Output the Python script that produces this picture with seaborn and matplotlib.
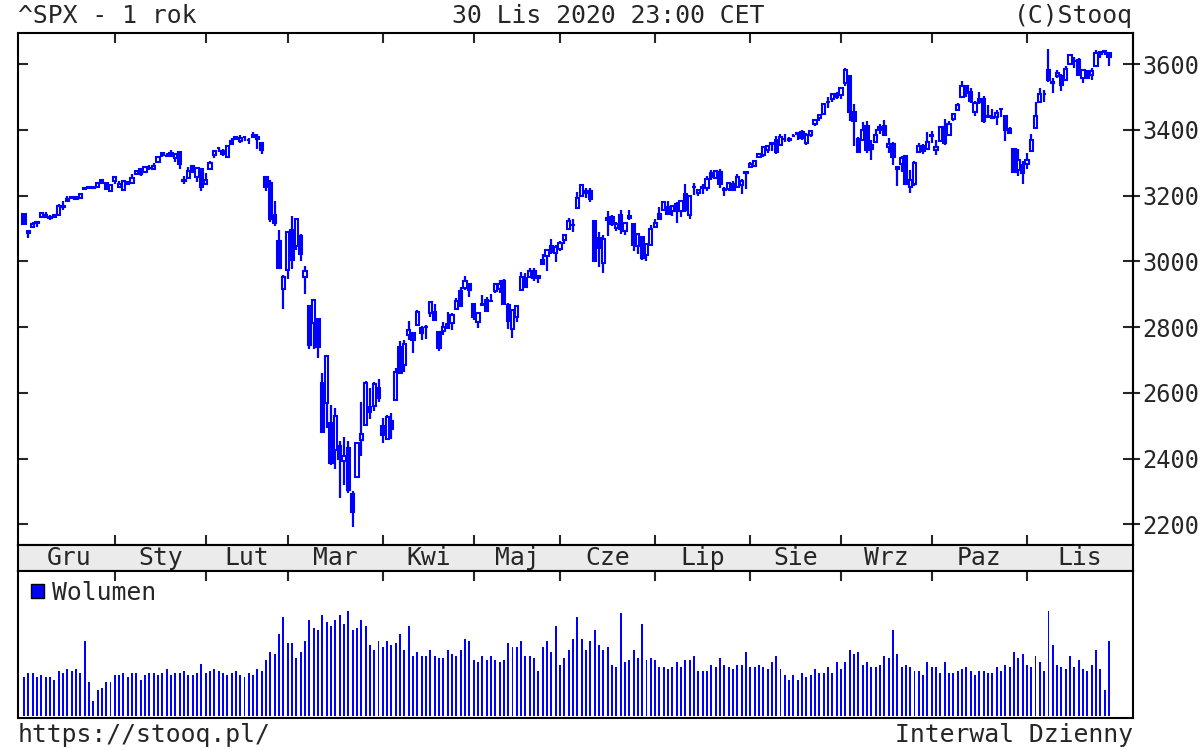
import numpy as np
import pandas as pd
import matplotlib
matplotlib.use("Agg")
import matplotlib.pyplot as plt
from matplotlib.patches import Rectangle
import seaborn as sns

# miesiace i liczba sesji w kazdym (gru 2019 - lis 2020)
miesiace = ["Gru", "Sty", "Lut", "Mar", "Kwi", "Maj", "Cze", "Lip", "Sie", "Wrz", "Paz", "Lis"]
sesje = [21, 21, 19, 22, 21, 20, 22, 22, 21, 21, 22, 20]

otwarcie = [
    3144, 3087, 3104, 3119, 3135, 3142, 3135, 3136, 3141, 3167, 3184, 3195, 3195, 3192, 3223, 3226, 3225, 3227, 3247, 3240, 3215,
    3245, 3226, 3218, 3242, 3239, 3266, 3282, 3271, 3285, 3282, 3303, 3324, 3321, 3330, 3316, 3333, 3247, 3255, 3289, 3256, 3282,
    3236, 3281, 3325, 3345, 3336, 3318, 3366, 3371, 3366, 3378, 3369, 3380, 3380, 3361, 3258, 3239, 3140, 3063, 2917,
    2974, 3096, 3046, 3076, 2954, 2864, 2813, 2826, 2631, 2570, 2509, 2426, 2437, 2393, 2432, 2291, 2344, 2458, 2501, 2556, 2559, 2615,
    2498, 2459, 2515, 2578, 2739, 2685, 2777, 2782, 2805, 2796, 2799, 2842, 2846, 2785, 2788, 2810, 2813, 2855, 2910, 2918, 2931,
    2869, 2815, 2869, 2883, 2878, 2909, 2915, 2940, 2866, 2795, 2830, 2914, 2949, 2954, 2970, 2948, 3004, 3016, 3047, 3025,
    3039, 3065, 3099, 3112, 3164, 3200, 3213, 3213, 3124, 3071, 2994, 3131, 3136, 3102, 3140, 3094, 3139, 3114, 3047, 3073, 3019, 3050,
    3106, 3144, 3155, 3166, 3153, 3176, 3152, 3205, 3141, 3226, 3208, 3224, 3224, 3269, 3255, 3272, 3219, 3220, 3234, 3227, 3232, 3270,
    3288, 3290, 3317, 3323, 3340, 3356, 3370, 3355, 3373, 3369, 3381, 3387, 3393, 3360, 3386, 3418, 3436, 3450, 3485, 3495, 3510,
    3507, 3544, 3565, 3454, 3372, 3370, 3413, 3353, 3364, 3408, 3411, 3347, 3357, 3286, 3296, 3320, 3226, 3237, 3334, 3351, 3341,
    3386, 3339, 3367, 3409, 3385, 3434, 3460, 3500, 3534, 3515, 3454, 3494, 3494, 3439, 3440, 3439, 3465, 3441, 3403, 3342, 3277, 3294,
    3296, 3336, 3406, 3486, 3508, 3583, 3543, 3563, 3563, 3553, 3600, 3610, 3612, 3559, 3579, 3567, 3595, 3636, 3639, 3634,
]
maks = [
    3144, 3095, 3119, 3119, 3151, 3149, 3142, 3144, 3176, 3183, 3198, 3198, 3198, 3205, 3226, 3228, 3226, 3240, 3248, 3241, 3232,
    3258, 3246, 3247, 3245, 3267, 3276, 3283, 3288, 3294, 3299, 3317, 3330, 3330, 3338, 3327, 3333, 3259, 3286, 3293, 3286, 3282,
    3268, 3307, 3338, 3348, 3341, 3352, 3376, 3381, 3385, 3381, 3375, 3394, 3389, 3361, 3260, 3247, 3183, 3097, 2960,
    3091, 3137, 3131, 3083, 2986, 2864, 2883, 2826, 2661, 2711, 2563, 2554, 2454, 2467, 2453, 2301, 2450, 2571, 2637, 2616, 2632, 2641,
    2523, 2533, 2538, 2677, 2757, 2761, 2819, 2782, 2852, 2802, 2807, 2879, 2869, 2786, 2815, 2845, 2843, 2888, 2921, 2955, 2931,
    2869, 2844, 2898, 2891, 2902, 2932, 2944, 2946, 2874, 2853, 2865, 2968, 2964, 2980, 2979, 2957, 3022, 3036, 3069, 3049,
    3062, 3081, 3131, 3129, 3212, 3233, 3223, 3223, 3124, 3088, 3080, 3153, 3141, 3120, 3156, 3121, 3155, 3115, 3086, 3074, 3054, 3112,
    3128, 3166, 3183, 3184, 3172, 3180, 3187, 3235, 3201, 3238, 3220, 3234, 3259, 3277, 3279, 3280, 3227, 3241, 3244, 3265, 3251, 3272,
    3303, 3307, 3331, 3351, 3353, 3363, 3381, 3388, 3387, 3379, 3388, 3395, 3400, 3391, 3400, 3432, 3444, 3481, 3501, 3509, 3515,
    3528, 3588, 3565, 3479, 3380, 3425, 3426, 3369, 3403, 3419, 3429, 3375, 3362, 3286, 3320, 3323, 3279, 3307, 3361, 3358, 3394,
    3397, 3369, 3410, 3432, 3426, 3447, 3482, 3550, 3534, 3528, 3489, 3516, 3502, 3477, 3465, 3461, 3466, 3441, 3410, 3342, 3341, 3305,
    3330, 3389, 3486, 3529, 3522, 3646, 3557, 3581, 3569, 3594, 3629, 3623, 3619, 3585, 3581, 3590, 3642, 3636, 3644, 3634,
]
minimum = [
    3111, 3070, 3103, 3104, 3135, 3135, 3126, 3133, 3138, 3157, 3184, 3191, 3191, 3192, 3216, 3222, 3221, 3227, 3234, 3217, 3212,
    3236, 3222, 3215, 3232, 3237, 3264, 3261, 3268, 3277, 3281, 3303, 3319, 3317, 3320, 3302, 3282, 3235, 3253, 3272, 3243, 3215,
    3236, 3281, 3314, 3334, 3322, 3318, 3353, 3370, 3361, 3366, 3356, 3379, 3341, 3328, 3215, 3119, 3109, 2977, 2856,
    2945, 2977, 3034, 3000, 2902, 2734, 2734, 2707, 2479, 2492, 2381, 2367, 2281, 2320, 2296, 2192, 2344, 2408, 2501, 2520, 2545, 2571,
    2447, 2456, 2460, 2575, 2658, 2663, 2762, 2721, 2805, 2762, 2764, 2831, 2820, 2727, 2776, 2794, 2792, 2853, 2861, 2912, 2892,
    2822, 2798, 2864, 2848, 2876, 2903, 2903, 2870, 2793, 2767, 2817, 2914, 2922, 2954, 2939, 2934, 2988, 2970, 3023, 2999,
    3032, 3052, 3099, 3090, 3164, 3196, 3193, 3181, 2999, 2984, 2966, 3076, 3108, 3094, 3083, 3079, 3127, 3032, 3024, 3005, 3000, 3048,
    3101, 3125, 3155, 3143, 3137, 3116, 3136, 3149, 3128, 3201, 3199, 3206, 3215, 3248, 3253, 3223, 3200, 3214, 3216, 3227, 3204, 3220,
    3285, 3286, 3317, 3318, 3329, 3335, 3326, 3355, 3363, 3362, 3379, 3370, 3370, 3355, 3379, 3413, 3426, 3444, 3468, 3484, 3493,
    3495, 3535, 3427, 3350, 3329, 3367, 3329, 3310, 3364, 3389, 3384, 3329, 3292, 3229, 3271, 3233, 3209, 3228, 3333, 3328, 3340,
    3361, 3324, 3367, 3355, 3385, 3428, 3458, 3500, 3501, 3481, 3441, 3480, 3420, 3436, 3433, 3415, 3440, 3365, 3389, 3269, 3260, 3234,
    3280, 3336, 3405, 3486, 3484, 3547, 3512, 3557, 3519, 3553, 3600, 3589, 3567, 3544, 3557, 3553, 3595, 3618, 3629, 3594,
]
zamkniecie = [
    3114, 3093, 3113, 3117, 3146, 3136, 3133, 3142, 3169, 3169, 3191, 3193, 3191, 3205, 3221, 3224, 3223, 3240, 3240, 3221, 3231,
    3258, 3235, 3246, 3237, 3253, 3275, 3265, 3288, 3283, 3289, 3317, 3330, 3321, 3322, 3326, 3295, 3244, 3276, 3273, 3284, 3226,
    3249, 3298, 3335, 3346, 3328, 3352, 3358, 3379, 3374, 3380, 3370, 3386, 3373, 3338, 3226, 3128, 3116, 2979, 2954,
    3090, 3003, 3130, 3024, 2972, 2747, 2882, 2741, 2481, 2711, 2386, 2529, 2398, 2409, 2305, 2237, 2447, 2476, 2630, 2541, 2627, 2585,
    2471, 2527, 2489, 2664, 2659, 2750, 2790, 2762, 2846, 2783, 2800, 2875, 2823, 2737, 2799, 2798, 2837, 2878, 2863, 2940, 2912,
    2831, 2843, 2868, 2848, 2881, 2930, 2930, 2870, 2820, 2853, 2864, 2954, 2923, 2972, 2949, 2955, 2992, 3036, 3030, 3044,
    3056, 3081, 3123, 3112, 3194, 3232, 3207, 3190, 3002, 3041, 3067, 3125, 3113, 3115, 3098, 3118, 3131, 3050, 3084, 3009, 3053, 3100,
    3116, 3130, 3180, 3145, 3170, 3152, 3185, 3155, 3198, 3227, 3216, 3225, 3252, 3257, 3276, 3236, 3216, 3239, 3218, 3258, 3246, 3271,
    3295, 3307, 3328, 3349, 3351, 3360, 3334, 3380, 3373, 3373, 3382, 3390, 3375, 3386, 3397, 3431, 3444, 3479, 3485, 3508, 3500,
    3527, 3581, 3455, 3427, 3332, 3399, 3339, 3341, 3384, 3401, 3385, 3357, 3319, 3281, 3316, 3237, 3247, 3298, 3352, 3335, 3363,
    3381, 3348, 3409, 3361, 3419, 3447, 3477, 3534, 3512, 3489, 3483, 3484, 3427, 3443, 3436, 3453, 3465, 3401, 3391, 3271, 3310, 3270,
    3310, 3369, 3443, 3510, 3509, 3551, 3546, 3573, 3537, 3585, 3627, 3610, 3568, 3582, 3558, 3578, 3635, 3630, 3638, 3622,
]
# wolumen w jednostkach wzglednych (odczyt z wykresu)
wolumen = [
    116, 129, 129, 116, 122, 116, 116, 109, 135, 129, 142, 135, 142, 129, 225, 103, 45, 77, 83, 103, 103,
    122, 122, 129, 116, 129, 129, 109, 122, 129, 129, 122, 129, 142, 122, 129, 129, 135, 122, 122, 129, 155,
    129, 135, 142, 135, 129, 122, 129, 135, 122, 116, 129, 122, 142, 135, 167, 193, 187, 245, 296,
    218, 218, 173, 193, 225, 289, 263, 257, 302, 283, 270, 289, 302, 276, 315, 257, 263, 289, 270, 212, 199, 225,
    206, 225, 212, 218, 245, 199, 270, 180, 193, 180, 180, 199, 180, 173, 173, 199, 187, 180, 199, 231, 225,
    167, 161, 180, 167, 180, 167, 161, 167, 218, 206, 206, 225, 180, 180, 173, 135, 206, 225, 193, 270,
    154, 173, 199, 231, 296, 231, 199, 225, 257, 212, 199, 206, 154, 148, 309, 161, 167, 199, 173, 276, 167, 173,
    167, 148, 148, 141, 148, 161, 148, 167, 167, 180, 135, 135, 135, 154, 148, 173, 154, 148, 141, 154, 154, 193,
    148, 148, 154, 148, 141, 161, 180, 141, 122, 109, 122, 109, 129, 116, 122, 141, 129, 129, 148, 129, 161,
    141, 161, 199, 187, 193, 154, 161, 148, 148, 154, 180, 173, 257, 187, 148, 154, 148, 135, 135, 122, 161,
    148, 148, 129, 161, 129, 129, 135, 141, 148, 135, 122, 135, 135, 129, 129, 148, 135, 154, 148, 193, 173, 187,
    154, 148, 180, 161, 135, 315, 212, 154, 148, 141, 180, 148, 167, 141, 135, 154, 199, 141, 77, 225,
]

NIEBIESKI = "#0000ff"
W, H = 1200, 750
FS = 17.8

sns.set_style("white")
plt.rcParams["font.family"] = ["DejaVu Sans Mono"]
plt.rcParams["axes.edgecolor"] = "black"
plt.rcParams["axes.linewidth"] = 1.5

df = pd.DataFrame({"open": otwarcie, "high": maks, "low": minimum,
                   "close": zamkniecie, "vol": wolumen})
df["k"] = np.arange(len(df))
up = df[df.close >= df.open]
dn = df[df.close < df.open]

starts = np.concatenate([[0], np.cumsum(sesje)[:-1]])
xlim = (-1.4, len(df) - 1 + 5.55)


def box(x0, y0, x1, y1):
    # pixel box (top-left origin) -> figure fractions
    return [x0 / W, 1 - y1 / H, (x1 - x0) / W, (y1 - y0) / H]


fig = plt.figure(figsize=(W / 100, H / 100), dpi=100)
ax = fig.add_axes(box(18, 33, 1133, 545))
band = fig.add_axes(box(18, 545, 1133, 571))
axv = fig.add_axes(box(18, 571, 1133, 718))

# swiece
ax.vlines(df.k, df.low, df.high, color=NIEBIESKI, lw=1.6, zorder=2)
ax.bar(up.k, up.close - up.open, bottom=up.open, width=0.75,
       facecolor="white", edgecolor=NIEBIESKI, lw=1.5, zorder=3)
ax.bar(dn.k, dn.open - dn.close, bottom=dn.close, width=0.75,
       facecolor=NIEBIESKI, edgecolor=NIEBIESKI, lw=1.5, zorder=3)
ax.set_xlim(xlim)
ax.set_ylim(2137, 3695)
yt = list(range(2200, 3601, 200))
ax.set_yticks(yt)
ax.tick_params(axis="y", left=True, right=True, direction="in", length=7,
               width=1.5, labelleft=False, labelright=False)
ax.set_xticks(starts[1:])
ax.tick_params(axis="x", top=True, bottom=True, direction="in", length=7,
               width=1.5, labelbottom=False)
sec = ax.secondary_yaxis("right")
sec.set_yticks(yt)
sec.tick_params(direction="out", length=5, width=1.5, labelsize=17, pad=1.5)

# pasek z miesiacami
band.set_facecolor("#ebebeb")
band.set_xlim(xlim)
band.set_xticks([])
band.set_yticks([])
edges = list(starts) + [xlim[1]]
for name, a, b in zip(miesiace, edges[:-1], edges[1:]):
    band.text((a + b) / 2, 0.23, name, transform=band.get_xaxis_transform(),
              ha="center", va="baseline", fontsize=FS)

# wolumen
sns.barplot(data=df, x="k", y="vol", native_scale=True, color=NIEBIESKI,
            saturation=1, width=0.45, errorbar=None, linewidth=0, ax=axv)
axv.set_xlim(xlim)
axv.set_ylim(-6, 435)
axv.set_xticks(starts[1:])
axv.tick_params(axis="x", top=True, bottom=False, direction="in", length=7,
                width=1.5, labelbottom=False)
axv.set_yticks([])
axv.set_xlabel("")
axv.set_ylabel("")

fig.patches.append(Rectangle((31 / W, 1 - 598 / H), 13 / W, 14 / H,
                             transform=fig.transFigure, facecolor=NIEBIESKI,
                             edgecolor="black", lw=1))
fig.text(52 / W, 1 - 600 / H, "Wolumen", fontsize=FS, va="baseline")

# napisy
fig.text(18 / W, 1 - 23 / H, "^SPX - 1 rok", fontsize=FS, va="baseline")
fig.text(608 / W, 1 - 23 / H, "30 Lis 2020 23:00 CET", fontsize=FS,
         va="baseline", ha="center")
fig.text(1133 / W, 1 - 23 / H, "(C)Stooq", fontsize=FS, va="baseline", ha="right")
fig.text(18 / W, 1 - 742 / H, "https://stooq.pl/", fontsize=FS, va="baseline")
fig.text(1133 / W, 1 - 742 / H, "Interwal Dzienny", fontsize=FS,
         va="baseline", ha="right")

fig.savefig("out.png", dpi=100)
